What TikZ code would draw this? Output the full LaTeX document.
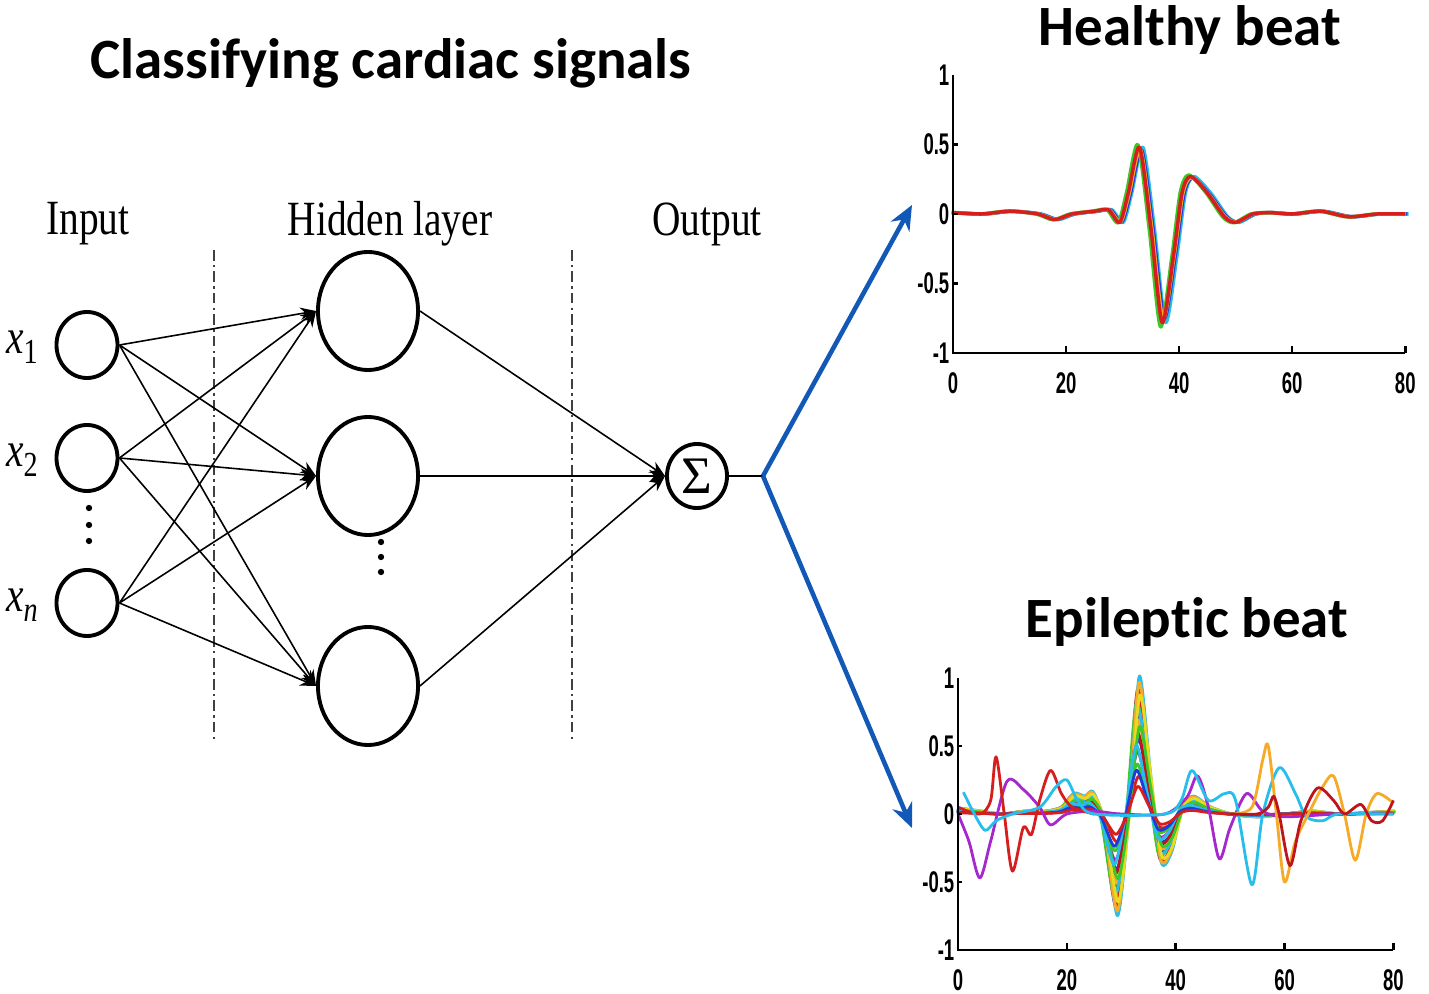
\documentclass[tikz,border=0pt]{standalone}
\usepackage{fontspec}
\setmainfont{Liberation Serif}
\newfontfamily\headfont{Carlito}[Ligatures=NoCommon]
\newfontfamily\tickfont{Liberation Sans}
\usetikzlibrary{arrows.meta,shapes.geometric}

\definecolor{arrowblue}{RGB}{18,88,182}
\definecolor{mred}{RGB}{215,30,30}
\definecolor{mblue}{RGB}{30,60,220}
\definecolor{mgreen}{RGB}{60,200,40}
\definecolor{mcyan}{RGB}{40,190,235}
\definecolor{morange}{RGB}{245,170,40}
\definecolor{mviolet}{RGB}{165,40,205}
\definecolor{mdred}{RGB}{190,20,30}
\definecolor{myellow}{RGB}{230,220,30}

\begin{document}
\begin{tikzpicture}[x=0.01cm, y=-0.01cm,
    inp/.style={ellipse, draw=black, line width=1.1pt, minimum width=0.61cm, minimum height=0.66cm, inner sep=0pt},
    hid/.style={ellipse, draw=black, line width=1.1pt, minimum width=1.0cm, minimum height=1.18cm, inner sep=0pt},
    conn/.style={line width=0.45pt, -{Stealth[length=4.5pt, width=3.5pt]}},
    sep/.style={line width=0.5pt, black!75, dash pattern=on 3pt off 1.2pt on 0.7pt off 1.2pt},
    lab/.style={font=\fontsize{14}{16}\selectfont, xscale=0.8, transform shape, inner sep=0pt},
    head/.style={font=\headfont\bfseries\fontsize{16.2}{19}\selectfont, inner sep=0pt},
    tick/.style={font=\tickfont\bfseries\fontsize{8.5}{9}\selectfont, xscale=0.62, transform shape, inner sep=1.5pt},
    bigarrow/.style={arrowblue, line width=1.3pt, -{Stealth[length=7pt, width=6pt]}},
    axis/.style={line width=0.7pt, black},
    wave/.style={line width=0.8pt, line join=round}]

  \useasboundingbox (0,0) rectangle (1429,994);

  % Titoli
  \node[head] (title) at (391,63) {Classifying cardiac signals};
  \node[head] (healthy) at (1190,30) {Healthy beat};
  \node[head] (epileptic) at (1187,622) {Epileptic beat};

  % Strati
  \node[lab] (linput) at (88,224) {Input};
  \node[lab] (lhidden) at (390,224) {Hidden layer};
  \node[lab] (loutput) at (707,224) {Output};

  \draw[sep] (214,250) -- (214,740);
  \draw[sep] (572,250) -- (572,740);

  % Ingressi
  \node[inp] (in1) at (87,345) {};
  \node[inp] (in2) at (87,458) {};
  \node[inp] (inn) at (87,603) {};
  \node[lab] (lx1) at (22,347) {{\itshape x}\raisebox{-0.45ex}{\fontsize{10}{11}\selectfont 1}};
  \node[lab] (lx2) at (22,460) {{\itshape x}\raisebox{-0.45ex}{\fontsize{10}{11}\selectfont 2}};
  \node[lab] (lxn) at (22,605) {{\itshape x}\raisebox{-0.45ex}{\fontsize{10}{11}\selectfont\itshape n}};
  \foreach \y in {508,525,541} \fill (89,\y) circle (0.9pt);

  % Strato nascosto
  \node[hid] (h1) at (368,311) {};
  \node[hid] (h2) at (368,476) {};
  \node[hid] (h3) at (368,686) {};
  \foreach \y in {542,557,572} \fill (381,\y) circle (0.9pt);

  % Uscita
  \node[inp, minimum width=0.6cm, minimum height=0.64cm] (sum) at (697,476)
    {\fontsize{15}{17}\selectfont Σ};
  \coordinate (fork) at (763,476);
  \coordinate (tophealthy) at (912,205);
  \coordinate (toepileptic) at (912,828);

  % Connessioni
  \foreach \i in {in1,in2,inn}
    \foreach \j in {h1,h2,h3}
      \draw[conn] (\i.east) -- (\j.west);
  \foreach \j in {h1,h2,h3}
    \draw[conn] (\j.east) -- (sum.west);
  \draw[line width=0.5pt] (sum.east) -- (fork);
  \draw[bigarrow] (fork) -- (tophealthy);
  \draw[bigarrow] (fork) -- (toepileptic);

  % Grafico battito sano
  \begin{scope}[shift={(953,214)}, x=0.0565cm, y=1.39cm]
    \foreach \col/\dx/\sy in {mcyan/0.6/1.0, mblue/0.35/0.96, mgreen/-0.3/1.04, morange/0.15/0.97, mred/0/1.0} {
      \draw[wave, line width=1pt, \col, shift={(\dx,0)}, yscale=\sy] plot[smooth, tension=0.45] coordinates {
        (0,0.01) (5,0.0) (10,0.02) (15,0.0) (18,-0.04) (21,0.0) (25,0.02) (27.5,0.03)
        (29.5,-0.06) (31,0.15) (33,0.48) (35,-0.1) (37,-0.78) (39,-0.3) (40.5,0.15)
        (42,0.27) (45,0.15) (48,-0.02) (50,-0.06) (53,0.0) (56,0.01) (60,0.0)
        (65,0.02) (70,-0.02) (75,0.0) (80,0.0)};
    }
    \draw[axis] (0,1) -- (0,-1) -- (80,-1);
    \foreach \v in {0.5,0,-0.5} \draw[axis] (0,\v) -- (0.8,\v);
    \foreach \u in {20,40,60,80} \draw[axis] (\u,-1) -- (\u,-0.95);
    \foreach \v/\t [count=\k] in {1/1, 0.5/0.5, 0/0, -0.5/-0.5, -1/-1}
      \node[tick, anchor=east] (hy\k) at (0,\v) {\t};
    \foreach \u [count=\k] in {0,20,40,60,80}
      \node[tick, anchor=north] (hx\k) at (\u,-1.1) {\u};
  \end{scope}

  % Grafico battito epilettico
  \begin{scope}[shift={(958,814)}, x=0.0544cm, y=1.36cm]
    \foreach \col/\a/\dx in {mred/1.0/0, mblue/0.8/0.2, mgreen/0.9/-0.2, mcyan/1.1/0.3,
        morange/0.75/0.1, mviolet/0.5/-0.1, mred/0.3/0.1, mblue/0.6/0.1, mgreen/0.4/-0.15,
        mcyan/0.85/0.05, morange/1.05/0.25, mdred/0.65/-0.05, myellow/0.95/0.4,
        mgreen/0.7/0.35, mcyan/0.55/-0.3, mblue/0.35/-0.25, mred/0.22/0} {
      \draw[wave, \col, shift={(\dx,0)}, yscale=\a] plot[smooth, tension=0.45] coordinates {
        (0,0.04) (4,0.02) (8,0.0) (12,0.02) (16,0.02) (19,0.05) (21,0.14) (23,0.12)
        (24.5,0.15) (26.5,-0.05) (29,-0.68) (31,-0.05) (33,0.92) (35,0.3) (37,-0.32)
        (39,-0.25) (41,0.05) (43,0.12) (46,0.05) (50,0.0) (55,-0.02) (60,0.0)
        (65,0.02) (70,0.0) (75,0.01) (80,0.02)};
    }
    \draw[wave, mviolet] plot[smooth, tension=0.5] coordinates {
      (0,0.0) (2,-0.2) (4,-0.47) (6,-0.2) (9,0.24) (12,0.18) (15,0.05) (17,-0.08)
      (20,0.0) (25,0.02) (30,0.0) (38,0.0) (42,0.12) (44,0.28) (46,0.05) (48,-0.33)
      (50,-0.1) (53,0.15) (56,0.02) (60,-0.02) (70,0.0) (80,0.0)};
    \draw[wave, mred] plot[smooth, tension=0.5] coordinates {
      (0,0.05) (4,0.0) (6,0.1) (7,0.42) (8.5,0.0) (10,-0.42) (12,-0.1) (13.5,-0.15)
      (15,0.1) (17,0.32) (19,0.15) (21,0.05) (25,0.0)};
    \draw[wave, mcyan] plot[smooth, tension=0.5] coordinates {
      (1,0.16) (3,0.0) (5,-0.12) (7,-0.05) (10,0.0) (15,0.05) (18,0.2) (20,0.25)
      (22,0.1) (25,0.0) (38,0.0) (41,0.1) (43,0.32) (46,0.1) (49,0.15) (51,0.1)
      (54,-0.52) (56,0.0) (59,0.34) (62,0.15) (64,-0.02) (67,-0.05) (70,0.0) (80,0.0)};
    \draw[wave, morange] plot[smooth, tension=0.5] coordinates {
      (50,0.0) (54,0.05) (56,0.4) (57,0.5) (58.5,0.0) (60,-0.5) (62,-0.2) (65,0.05)
      (67,0.2) (69,0.28) (71,0.0) (73,-0.34) (75,0.0) (77,0.15) (80,0.08)};
    \draw[wave, mdred] plot[smooth, tension=0.5] coordinates {
      (50,0.0) (55,0.0) (57,0.05) (58,0.13) (59,0.0) (61,-0.38) (63,-0.05) (66,0.19)
      (69,0.1) (71,0.0) (74,0.07) (76,-0.05) (78,-0.05) (80,0.1)};
    \draw[axis] (0,1) -- (0,-1) -- (80,-1);
    \foreach \v in {0.5,0,-0.5} \draw[axis] (0,\v) -- (0.8,\v);
    \foreach \u in {20,40,60,80} \draw[axis] (\u,-1) -- (\u,-0.95);
    \foreach \v/\t [count=\k] in {1/1, 0.5/0.5, 0/0, -0.5/-0.5, -1/-1}
      \node[tick, anchor=east] (ey\k) at (0,\v) {\t};
    \foreach \u [count=\k] in {0,20,40,60,80}
      \node[tick, anchor=north] (ex\k) at (\u,-1.1) {\u};
  \end{scope}
\end{tikzpicture}
\end{document}
